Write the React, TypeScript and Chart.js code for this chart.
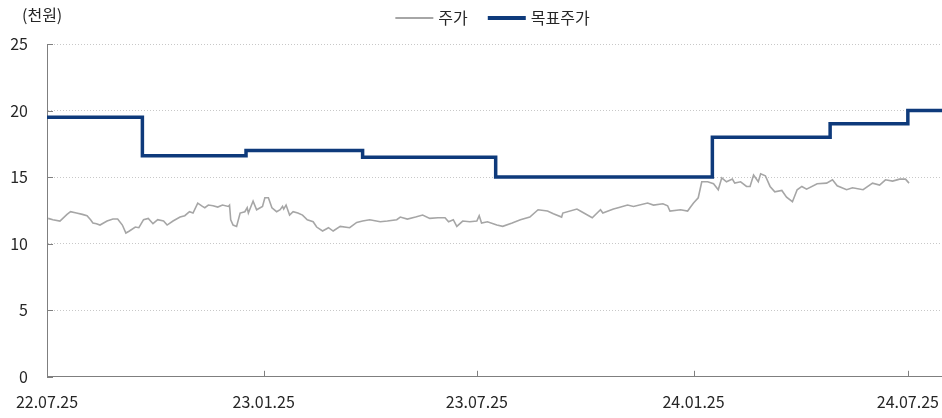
import { useEffect, useRef } from 'react';
import { Chart, registerables } from 'chart.js';

Chart.register(...registerables);

// x values are days counted from 22.07.25
const tickDays = [0, 184, 365, 549, 731];
const tickLabels = ['22.07.25', '23.01.25', '23.07.25', '24.01.25', '24.07.25'];
const xMaxDay = 760;
const yMin = 0;
const yMax = 25;
const yStep = 5;

const seriesLabels = ['주가', '목표주가'];
const unitLabel = '(천원)';

const priceDays = [
  1, 5, 11, 17, 20, 25, 30, 34, 37, 39, 42, 45, 51, 56, 60, 64, 67, 70, 75, 78,
  82, 86, 90, 94, 99, 102, 107, 113, 117, 121, 124, 128, 132, 134, 137, 141, 145, 149, 154, 155,
  156, 158, 161, 164, 168, 170, 171, 175, 178, 183, 185, 188, 191, 195, 198, 200, 201, 203, 206, 209,
  213, 217, 221, 226, 229, 234, 239, 243, 249, 257, 263, 268, 274, 283, 289, 297, 300, 306, 313, 319,
  325, 332, 338, 341, 345, 348, 353, 359, 365, 367, 369, 374, 382, 387, 395, 402, 410, 417, 425, 430,
  437, 438, 450, 454, 463, 470, 472, 481, 485, 493, 498, 510, 515, 523, 527, 529, 538, 544, 546, 549,
  553, 556, 561, 566, 570, 573, 577, 582, 584, 589, 594, 597, 600, 604, 606, 610, 614, 618, 624, 628,
  633, 637, 641, 645, 654, 662, 667, 671, 679, 684, 693, 701, 707, 712, 718, 724, 729, 732,
];
const priceValues = [
  11.9, 11.8, 11.7, 12.2, 12.4, 12.3, 12.2, 12.1, 11.8, 11.55, 11.5, 11.4, 11.7, 11.85, 11.85, 11.4, 10.8, 10.95, 11.25, 11.2,
  11.8, 11.9, 11.5, 11.8, 11.7, 11.4, 11.7, 12.0, 12.1, 12.4, 12.3, 13.05, 12.8, 12.7, 12.9, 12.85, 12.75, 12.9, 12.8, 12.9,
  11.8, 11.4, 11.3, 12.3, 12.4, 12.7, 12.3, 13.2, 12.55, 12.8, 13.45, 13.45, 12.7, 12.4, 12.55, 12.8, 12.6, 12.9, 12.15, 12.4,
  12.3, 12.15, 11.8, 11.65, 11.25, 10.95, 11.2, 10.95, 11.3, 11.2, 11.6, 11.7, 11.8, 11.65, 11.7, 11.8, 12.0, 11.85, 12.0, 12.15,
  11.9, 11.95, 11.95, 11.65, 11.8, 11.3, 11.7, 11.65, 11.7, 12.1, 11.55, 11.65, 11.4, 11.3, 11.55, 11.8, 12.0, 12.55, 12.45, 12.25,
  12.0, 12.3, 12.6, 12.4, 11.95, 12.55, 12.3, 12.6, 12.7, 12.9, 12.8, 13.05, 12.9, 13.0, 12.85, 12.45, 12.55, 12.45, 12.7, 13.05,
  13.45, 14.65, 14.65, 14.5, 14.05, 14.95, 14.65, 14.85, 14.55, 14.65, 14.3, 14.3, 15.15, 14.65, 15.25, 15.1, 14.3, 13.9, 14.0, 13.5,
  13.15, 14.05, 14.3, 14.1, 14.5, 14.55, 14.8, 14.35, 14.05, 14.2, 14.05, 14.55, 14.4, 14.8, 14.7, 14.85, 14.85, 14.55,
];

const targetDays = [0, 81, 169, 268, 381, 565, 665, 731, 760];
const targetValues = [19.5, 16.6, 17.0, 16.5, 15.0, 18.0, 19.0, 20.0, 20.0];

const FONT_FAMILY = "'Noto Sans CJK KR', 'Noto Sans', sans-serif";
const FONT_SIZE = 16;
const TEXT_COLOR = '#262626';
const PRICE_COLOR = '#A6A6A6';
const TARGET_COLOR = '#0E3A7B';
const AXIS_COLOR = '#7F7F7F';

const decorPlugin = {
  id: 'decor',
  afterDraw(chart: any) {
    const { ctx, chartArea, scales } = chart;
    ctx.save();
    // inward tick marks
    ctx.strokeStyle = AXIS_COLOR;
    ctx.lineWidth = 1;
    ctx.beginPath();
    scales.y.ticks.forEach((t: any) => {
      const y = Math.round(scales.y.getPixelForValue(t.value)) + 0.5;
      ctx.moveTo(chartArea.left, y);
      ctx.lineTo(chartArea.left + 6, y);
    });
    scales.x.ticks.forEach((t: any) => {
      const x = Math.round(scales.x.getPixelForValue(t.value)) + 0.5;
      ctx.moveTo(x, chartArea.bottom);
      ctx.lineTo(x, chartArea.bottom - 6);
    });
    ctx.stroke();

    // unit label
    ctx.font = `${FONT_SIZE}px ${FONT_FAMILY}`;
    ctx.fillStyle = TEXT_COLOR;
    ctx.textBaseline = 'middle';
    ctx.textAlign = 'left';
    ctx.fillText(unitLabel, 22, 15);

    // legend
    const lineLen = 38;
    const gapText = 5;
    const gapItem = 20;
    const w0 = ctx.measureText(seriesLabels[0]).width;
    const w1 = ctx.measureText(seriesLabels[1]).width;
    const total = lineLen + gapText + w0 + gapItem + lineLen + gapText + w1;
    const cx = (chartArea.left + chartArea.right) / 2 - 2;
    let x = cx - total / 2;
    const ly = 18;
    const items = [
      { label: seriesLabels[0], color: PRICE_COLOR, width: 2, tw: w0 },
      { label: seriesLabels[1], color: TARGET_COLOR, width: 4, tw: w1 },
    ];
    items.forEach((it) => {
      ctx.beginPath();
      ctx.strokeStyle = it.color;
      ctx.lineWidth = it.width;
      ctx.moveTo(x, ly);
      ctx.lineTo(x + lineLen, ly);
      ctx.stroke();
      x += lineLen + gapText;
      ctx.fillStyle = TEXT_COLOR;
      ctx.fillText(it.label, x, ly);
      x += it.tw + gapItem;
    });
    ctx.restore();
  },
};

export default function App() {
  const ref = useRef<HTMLCanvasElement | null>(null);

  useEffect(() => {
    document.body.style.margin = '0';
    if (!ref.current) return;
    const chart = new Chart(ref.current, {
      type: 'line',
      data: {
        datasets: [
          {
            label: seriesLabels[0],
            data: priceDays.map((d, i) => ({ x: d, y: priceValues[i] })),
            borderColor: PRICE_COLOR,
            backgroundColor: PRICE_COLOR,
            borderWidth: 1.6,
            pointRadius: 0,
            tension: 0,
          },
          {
            label: seriesLabels[1],
            data: targetDays.map((d, i) => ({ x: d, y: targetValues[i] })),
            borderColor: TARGET_COLOR,
            backgroundColor: TARGET_COLOR,
            borderWidth: 3.5,
            pointRadius: 0,
            stepped: 'before',
          },
        ],
      },
      options: {
        responsive: false,
        animation: false,
        layout: { padding: { top: 44, left: 0, right: 0, bottom: 6 } },
        plugins: {
          legend: { display: false },
          tooltip: { enabled: false },
          title: { display: false },
        },
        scales: {
          x: {
            type: 'linear',
            min: 0,
            max: xMaxDay,
            afterBuildTicks: (scale: any) => {
              scale.ticks = tickDays.map((v) => ({ value: v }));
            },
            ticks: {
              autoSkip: false,
              maxRotation: 0,
              padding: 0,
              color: TEXT_COLOR,
              font: { family: FONT_FAMILY, size: FONT_SIZE },
              callback: (_v: any, i: number) => tickLabels[i],
            },
            grid: {
              drawOnChartArea: false,
              drawTicks: true,
              tickLength: 16,
              color: 'rgba(0,0,0,0)',
            },
            border: { display: true, color: AXIS_COLOR, width: 1 },
          },
          y: {
            min: yMin,
            max: yMax,
            afterFit: (scale: any) => {
              scale.width = 47;
            },
            ticks: {
              stepSize: yStep,
              padding: 19,
              color: TEXT_COLOR,
              font: { family: FONT_FAMILY, size: FONT_SIZE },
            },
            grid: {
              drawTicks: false,
              color: '#C8C8C8',
              lineWidth: 1,
            },
            border: { display: true, color: AXIS_COLOR, width: 1, dash: [1, 2] },
          },
        },
      },
      plugins: [decorPlugin],
    } as any);
    return () => chart.destroy();
  }, []);

  return (
    <div style={{ width: 942, height: 418 }}>
      <canvas ref={ref} width={942} height={418} style={{ display: 'block' }} />
    </div>
  );
}
